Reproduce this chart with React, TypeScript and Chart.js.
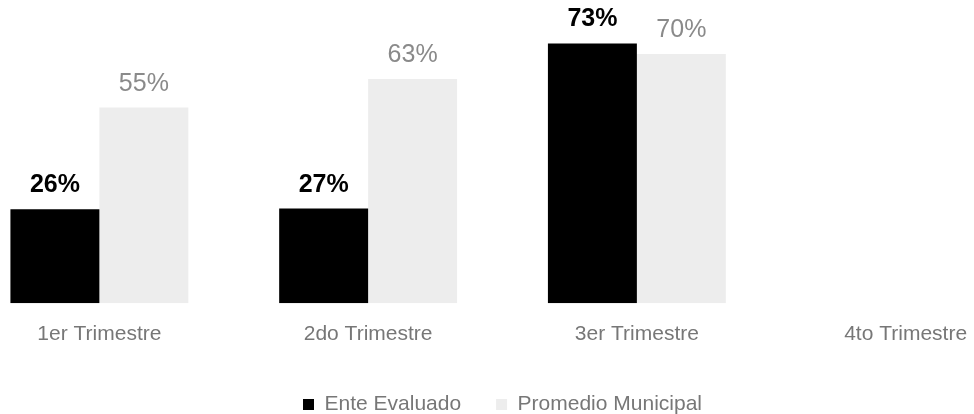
import React, { useEffect, useRef } from "react";
import { Chart, registerables } from "chart.js";

Chart.register(...registerables);

// ---- Data ----
const categories = ["1er Trimestre", "2do Trimestre", "3er Trimestre", "4to Trimestre"];
const seriesNames = ["Ente Evaluado", "Promedio Municipal"];
const enteEvaluado: (number | null)[] = [26.4, 26.6, 73, null];
const promedioMunicipal: (number | null)[] = [55, 63, 70, null];
const yMax = 80;

const FONT = '"Liberation Sans", Arial, sans-serif';

const valueLabels = {
  id: "valueLabels",
  afterDatasetsDraw(chart: any) {
    const ctx = chart.ctx;
    chart.data.datasets.forEach((ds: any, di: number) => {
      const meta = chart.getDatasetMeta(di);
      if (meta.hidden) return;
      meta.data.forEach((el: any, i: number) => {
        const v = ds.data[i];
        if (v == null) return;
        ctx.save();
        ctx.font = (di === 0 ? "bold " : "") + "25px " + FONT;
        ctx.fillStyle = di === 0 ? "#000000" : "#8a8a8a";
        ctx.textAlign = "center";
        ctx.textBaseline = "alphabetic";
        ctx.fillText(Math.round(v) + "%", el.x, el.y - 17);
        ctx.restore();
      });
    });
  },
};

export default function App() {
  const canvasRef = useRef<HTMLCanvasElement | null>(null);

  useEffect(() => {
    if (!canvasRef.current) return;
    const chart = new Chart(canvasRef.current, {
      type: "bar",
      data: {
        labels: categories,
        datasets: [
          {
            label: seriesNames[0],
            data: enteEvaluado,
            backgroundColor: "#000000",
            borderWidth: 0,
            categoryPercentage: 0.662,
            barPercentage: 1.0,
          },
          {
            label: seriesNames[1],
            data: promedioMunicipal,
            backgroundColor: "#ededed",
            borderWidth: 0,
            categoryPercentage: 0.662,
            barPercentage: 1.0,
          },
        ],
      },
      options: {
        responsive: false,
        animation: false,
        layout: { padding: { top: 18.5, left: 0, right: 0, bottom: 0 } },
        plugins: {
          legend: {
            position: "bottom",
            labels: {
              boxWidth: 11,
              boxHeight: 11,
              padding: 35,
              color: "#777777",
              font: { family: FONT, size: 21 },
            },
          },
          tooltip: { enabled: false },
        },
        scales: {
          x: {
            grid: { display: false, drawTicks: false },
            border: { display: false },
            ticks: {
              padding: 18,
              color: "#777777",
              font: { family: FONT, size: 21 },
              maxRotation: 0,
              autoSkip: false,
            },
            afterFit: (s: any) => {
              s.height -= 5.5;
            },
          },
          y: { display: false, min: 0, max: yMax },
        },
      } as any,
      plugins: [valueLabels],
    });
    return () => chart.destroy();
  }, []);

  return (
    <div
      style={{
        position: "fixed",
        left: 0,
        top: 0,
        width: 974,
        height: 414,
        overflow: "hidden",
        background: "#ffffff",
      }}
    >
      <canvas
        ref={canvasRef}
        width={1075}
        height={425}
        style={{ position: "absolute", left: -35, top: 0, width: 1075, height: 425 }}
      />
    </div>
  );
}
